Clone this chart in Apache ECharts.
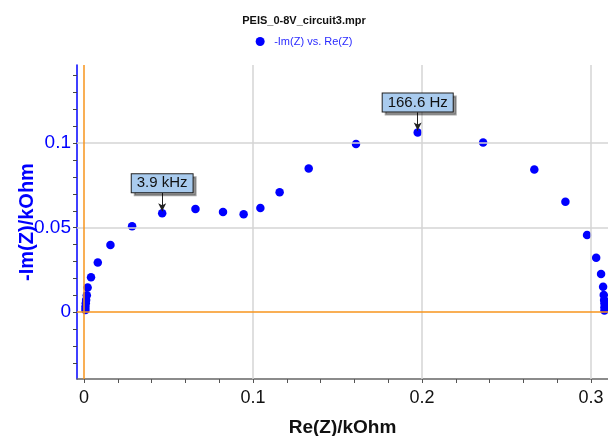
<!DOCTYPE html>
<html>
<head>
<meta charset="utf-8">
<script src="https://cdn.jsdelivr.net/npm/echarts@6/dist/echarts.min.js"></script>
<style>
  html, body { margin: 0; padding: 0; background: #fff; }
  #main { width: 608px; height: 436px; }
</style>
</head>
<body>
<div id="main"></div>
<script>
// Nyquist data (kOhm)
var reZ = [0.0008, 0.0008, 0.0010, 0.0012, 0.0016, 0.0021, 0.0041, 0.0081, 0.0156, 0.0284,
           0.0462, 0.0659, 0.0822, 0.0944, 0.1043, 0.1157, 0.1329, 0.1609, 0.1974, 0.2361,
           0.2664, 0.2848, 0.2976, 0.3030, 0.3059, 0.3071, 0.3075, 0.3077, 0.3079, 0.3079, 0.3079];
var imZ = [0.0014, 0.0033, 0.0053, 0.0073, 0.0101, 0.0146, 0.0207, 0.0294, 0.0398, 0.0509,
           0.0586, 0.0611, 0.0593, 0.0580, 0.0617, 0.0710, 0.0850, 0.0996, 0.1063, 0.1004,
           0.0844, 0.0654, 0.0457, 0.0323, 0.0227, 0.0151, 0.0102, 0.0073, 0.0053, 0.0030, 0.0010];

// frequency annotations (index into the data above)
var annoIndex = [10, 18];
var annoText = ['3.9 kHz', '166.6 Hz'];

// axis ticks / labels
var xTicks = [0, 0.02, 0.04, 0.06, 0.08, 0.1, 0.12, 0.14, 0.16, 0.18, 0.2, 0.22, 0.24, 0.26, 0.28, 0.3];
var xLabels = [0, 0.1, 0.2, 0.3];
var yTicks = [-0.03, -0.02, -0.01, 0, 0.01, 0.02, 0.03, 0.04, 0.05, 0.06, 0.07, 0.08, 0.09, 0.1, 0.11, 0.12, 0.13, 0.14];
var yLabels = [0, 0.05, 0.1];
var xGrid = [0.1, 0.2, 0.3];
var yGrid = [0.05, 0.1];

var seriesName = '-Im(Z) vs. Re(Z)';
var font = 'Liberation Sans, Arial, sans-serif';

var points = reZ.map(function(x, i) { return [x, imZ[i]]; });

var labelPoints = annoIndex.map(function(idx, i) {
    return { coord: [reZ[idx], imZ[idx]], value: annoText[i] };
});
var arrows = annoIndex.map(function(idx) {
    return [{ coord: [reZ[idx], imZ[idx] + 0.0120] }, { coord: [reZ[idx], imZ[idx] + 0.0012] }];
});

var gridLines = xGrid.map(function(v) { return { xAxis: v }; })
    .concat(yGrid.map(function(v) { return { yAxis: v }; }));

var chart = echarts.init(document.getElementById('main'));

chart.setOption({
    animation: false,
    textStyle: { fontFamily: font },
    title: {
        text: 'PEIS_0-8V_circuit3.mpr',
        left: 'center',
        top: 10,
        textStyle: { fontSize: 11, fontWeight: 'bold', color: '#111', fontFamily: font }
    },
    legend: {
        data: [seriesName],
        top: 31,
        left: 'center',
        icon: 'circle',
        itemWidth: 18,
        itemHeight: 9,
        textStyle: { color: '#2b2bff', fontSize: 11, fontFamily: font }
    },
    grid: {
        left: 77,
        right: 0,
        top: 65,
        bottom: 57,
        containLabel: false,
        outerBoundsMode: 'none'
    },
    xAxis: {
        type: 'value',
        min: -0.0042,
        max: 0.31,
        name: 'Re(Z)/kOhm',
        nameLocation: 'middle',
        nameGap: 39,
        nameMoveOverlap: false,
        nameTextStyle: { fontSize: 19, fontWeight: 'bold', color: '#111', fontFamily: font },
        axisLine: { show: true, onZero: false, lineStyle: { color: '#666', width: 1.5 } },
        axisTick: { show: true, length: 4, customValues: xTicks, lineStyle: { color: '#555' } },
        axisLabel: {
            customValues: xLabels,
            fontSize: 18,
            color: '#111',
            margin: 10,
            formatter: function(v) { return String(+v.toFixed(2)); }
        },
        splitLine: { show: false }
    },
    yAxis: {
        type: 'value',
        min: -0.0395,
        max: 0.1463,
        name: '-Im(Z)/kOhm',
        nameLocation: 'middle',
        nameGap: 40,
        nameMoveOverlap: false,
        nameTextStyle: { fontSize: 20, fontWeight: 'bold', color: '#0000ff', fontFamily: font },
        axisLine: { show: true, onZero: false, lineStyle: { color: '#0000ff', width: 1.5 } },
        axisTick: { show: true, length: 4, customValues: yTicks, lineStyle: { color: '#444' } },
        axisLabel: {
            customValues: yLabels,
            fontSize: 19,
            color: '#0000ff',
            margin: 6,
            formatter: function(v) { return String(+v.toFixed(2)); }
        },
        splitLine: { show: false }
    },
    series: [
        {
            // grid and zero lines
            name: 'grid',
            type: 'scatter',
            data: [],
            z: 1,
            silent: true,
            markLine: {
                silent: true,
                symbol: ['none', 'none'],
                label: { show: false },
                lineStyle: { color: '#d4d4d4', width: 1.5, type: 'solid' },
                data: gridLines.concat([
                    { xAxis: 0, lineStyle: { color: '#f7941d', width: 1.5, type: 'solid' } },
                    { yAxis: 0, lineStyle: { color: '#f7941d', width: 1.5, type: 'solid' } }
                ])
            }
        },
        {
            name: seriesName,
            type: 'scatter',
            data: points,
            symbol: 'circle',
            symbolSize: 8.5,
            itemStyle: { color: '#0000ff', opacity: 1 },
            z: 3,
            markLine: {
                silent: true,
                symbol: ['none', 'arrow'],
                symbolSize: [6, 8],
                label: { show: false },
                lineStyle: { color: '#222', width: 1, type: 'solid' },
                data: arrows
            },
            markPoint: {
                symbol: 'circle',
                symbolSize: 0,
                silent: true,
                label: {
                    show: true,
                    position: 'inside',
                    offset: [0, -30],
                    formatter: '{c}',
                    fontSize: 15,
                    color: '#111',
                    fontFamily: font,
                    backgroundColor: '#a9cbee',
                    borderColor: '#222',
                    borderWidth: 1,
                    padding: [2, 5, 1, 5],
                    shadowColor: 'rgba(0,0,0,0.35)',
                    shadowOffsetX: 3,
                    shadowOffsetY: 3,
                    shadowBlur: 0
                },
                data: labelPoints
            }
        }
    ]
});
</script>
</body>
</html>
